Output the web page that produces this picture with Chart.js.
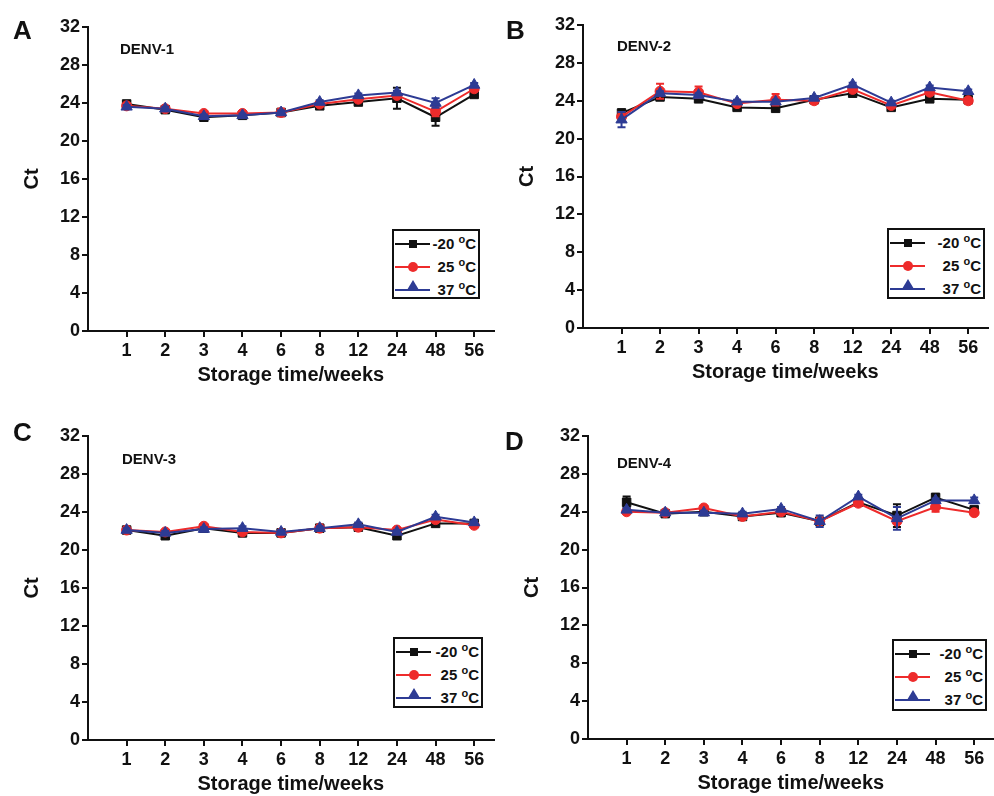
<!DOCTYPE html>
<html>
<head>
<meta charset="utf-8">
<script src="https://cdn.jsdelivr.net/npm/chart.js@4.4.1/dist/chart.umd.min.js"></script>
<style>
  body { margin: 0; width: 994px; height: 796px; overflow: hidden; background: #fff; position: relative;
         font-family: "Liberation Sans", Arial, sans-serif; color: #111; }
  canvas { position: absolute; }
  .lbl { position: absolute; font-weight: bold; line-height: 1; white-space: nowrap; }
  .letter { font-size: 26px; }
  .virus { font-size: 15px; }
  .legend { position: absolute; border: 2px solid #111; box-sizing: border-box; background: #fff; padding: 1px 1px 0 1px; }
  .row { display: flex; align-items: center; height: 23px; }
  .sym { position: relative; width: 35px; height: 12px; flex: none; }
  .sym .ln { position: absolute; left: 0; right: 0; top: 5px; height: 2px; }
  .sym .mk { position: absolute; left: 50%; top: 50%; transform: translate(-50%, -50%); }
  .txt { flex: 1; text-align: right; font-weight: bold; font-size: 15px; padding-right: 1px; white-space: nowrap; }
  .deg { font-size: 11px; position: relative; top: -6px; }
</style>
</head>
<body>
<canvas id="chartA" width="501" height="387" style="left:0;top:0"></canvas>
<canvas id="chartB" width="500" height="384" style="left:495px;top:0"></canvas>
<canvas id="chartC" width="501" height="396" style="left:0;top:400px"></canvas>
<canvas id="chartD" width="501" height="395" style="left:500px;top:400px"></canvas>

<div class="lbl letter" style="left:13px;top:17px">A</div>
<div class="lbl letter" style="left:506px;top:17px">B</div>
<div class="lbl letter" style="left:13px;top:419px">C</div>
<div class="lbl letter" style="left:505px;top:428px">D</div>
<div class="lbl virus" style="left:120px;top:41px">DENV-1</div>
<div class="lbl virus" style="left:617px;top:38px">DENV-2</div>
<div class="lbl virus" style="left:122px;top:451px">DENV-3</div>
<div class="lbl virus" style="left:617px;top:455px">DENV-4</div>

<div class="legend" id="legA" style="left:392px;top:229px;width:88px;height:70px"></div>
<div class="legend" id="legB" style="left:887px;top:228px;width:98px;height:71px"></div>
<div class="legend" id="legC" style="left:393px;top:637px;width:90px;height:71px"></div>
<div class="legend" id="legD" style="left:892px;top:639px;width:95px;height:72px"></div>

<script>
// storage time categories and the three temperatures
const weeks = ['1', '2', '3', '4', '6', '8', '12', '24', '48', '56'];
const temps = ['-20', '25', '37'];
const colors = ['#111111', '#ee2b2b', '#2d3b94'];
const markers = ['rect', 'circle', 'triangle'];
const markerSizes = [6, 5, 6.5];

// DENV-1 Ct values
const denv1_m20 = [23.9, 23.3, 22.5, 22.7, 23.0, 23.7, 24.1, 24.5, 22.5, 24.9];
const denv1_25  = [23.7, 23.4, 22.9, 22.9, 23.0, 23.9, 24.4, 24.8, 23.1, 25.5];
const denv1_37  = [23.6, 23.4, 22.6, 22.7, 23.0, 24.1, 24.8, 25.1, 24.0, 25.9];
const denv1_m20Err = [0.3, 0.2, 0.2, 0.2, 0.2, 0.2, 0.2, 1.1, 0.9, 0.2];
const denv1_25Err  = [0.2, 0.2, 0.2, 0.2, 0.4, 0.2, 0.2, 0.2, 0.5, 0.2];
const denv1_37Err  = [0.2, 0.2, 0.2, 0.2, 0.2, 0.2, 0.2, 0.2, 0.5, 0.2];

// DENV-2 Ct values
const denv2_m20 = [22.7, 24.4, 24.2, 23.3, 23.2, 24.1, 24.8, 23.3, 24.2, 24.1];
const denv2_25  = [22.3, 25.0, 24.9, 23.7, 24.1, 24.0, 25.2, 23.5, 24.9, 24.0];
const denv2_37  = [22.0, 24.8, 24.6, 23.9, 23.9, 24.3, 25.7, 23.8, 25.4, 25.0];
const denv2_m20Err = [0.4, 0.2, 0.2, 0.2, 0.2, 0.2, 0.2, 0.2, 0.2, 0.2];
const denv2_25Err  = [0.5, 0.8, 0.6, 0.2, 0.6, 0.2, 0.2, 0.2, 0.2, 0.3];
const denv2_37Err  = [0.8, 0.2, 0.2, 0.2, 0.2, 0.2, 0.2, 0.2, 0.2, 0.2];

// DENV-3 Ct values
const denv3_m20 = [22.1, 21.5, 22.3, 21.8, 21.8, 22.3, 22.4, 21.5, 22.8, 22.8];
const denv3_25  = [22.1, 21.9, 22.5, 21.9, 21.8, 22.3, 22.4, 22.1, 23.2, 22.6];
const denv3_37  = [22.1, 21.8, 22.2, 22.3, 21.9, 22.3, 22.7, 21.9, 23.5, 22.9];
const denv3_m20Err = [0.2, 0.2, 0.2, 0.2, 0.2, 0.2, 0.2, 0.2, 0.2, 0.2];
const denv3_25Err  = [0.2, 0.2, 0.2, 0.2, 0.2, 0.2, 0.2, 0.2, 0.2, 0.2];
const denv3_37Err  = [0.2, 0.2, 0.2, 0.2, 0.2, 0.2, 0.2, 0.2, 0.2, 0.2];

// DENV-4 Ct values
const denv4_m20 = [25.0, 23.8, 24.0, 23.5, 23.9, 23.0, 25.0, 23.6, 25.5, 24.2];
const denv4_25  = [24.0, 23.9, 24.4, 23.5, 24.0, 23.0, 24.9, 23.0, 24.5, 23.9];
const denv4_37  = [24.2, 23.9, 23.9, 23.8, 24.3, 23.0, 25.6, 23.3, 25.2, 25.2];
const denv4_m20Err = [0.6, 0.2, 0.2, 0.2, 0.2, 0.2, 0.2, 1.2, 0.4, 0.2];
const denv4_25Err  = [0.2, 0.2, 0.2, 0.2, 0.2, 0.2, 0.2, 0.3, 0.5, 0.2];
const denv4_37Err  = [0.2, 0.2, 0.2, 0.2, 0.2, 0.6, 0.2, 1.2, 0.2, 0.3];

Chart.defaults.font.family = '"Liberation Sans", Arial, sans-serif';
Chart.defaults.color = '#111';

// vertical SD bars with caps, drawn under each dataset's markers
const errorBars = {
  id: 'errorBars',
  beforeDatasetDraw(chart, args) {
    const ds = chart.data.datasets[args.index];
    if (!ds.errors) return;
    const xs = chart.scales.x, ys = chart.scales.y, ctx = chart.ctx;
    ctx.save();
    ctx.strokeStyle = ds.borderColor;
    ctx.lineWidth = 2;
    ds.data.forEach(function (p, i) {
      const e = ds.errors[i];
      const px = xs.getPixelForValue(p.x);
      const top = ys.getPixelForValue(p.y + e);
      const bot = ys.getPixelForValue(p.y - e);
      ctx.beginPath();
      ctx.moveTo(px, top); ctx.lineTo(px, bot);
      ctx.moveTo(px - 4, top); ctx.lineTo(px + 4, top);
      ctx.moveTo(px - 4, bot); ctx.lineTo(px + 4, bot);
      ctx.stroke();
    });
    ctx.restore();
  }
};

function makeChart(id, series, errs, padTop) {
  return new Chart(document.getElementById(id), {
    type: 'line',
    data: {
      datasets: series.map(function (vals, k) {
        return {
          label: temps[k] + ' °C',
          data: vals.map(function (v, i) { return { x: i + 1, y: v }; }),
          errors: errs[k],
          borderColor: colors[k],
          backgroundColor: colors[k],
          borderWidth: 2,
          pointStyle: markers[k],
          pointRadius: markerSizes[k],
          pointBorderWidth: 1,
          tension: 0,
          order: 2 - k
        };
      })
    },
    options: {
      responsive: false,
      animation: false,
      devicePixelRatio: 1,
      layout: { padding: { top: padTop, left: 0, right: 0, bottom: 0 } },
      plugins: { legend: { display: false }, tooltip: { enabled: false } },
      scales: {
        x: {
          type: 'linear', min: 0, max: 10.5,
          afterBuildTicks: function (s) { s.ticks = weeks.map(function (w, i) { return { value: i + 1 }; }); },
          afterFit: function (s) { s.height = 56; },
          ticks: {
            callback: function (v) { return weeks[v - 1]; },
            autoSkip: false, maxRotation: 0, padding: 3,
            color: '#111', font: { size: 18, weight: 'bold' }
          },
          grid: { drawOnChartArea: false, drawTicks: true, tickLength: 6, color: '#111', lineWidth: 2 },
          border: { color: '#111', width: 2 },
          title: { display: true, text: 'Storage time/weeks', color: '#111', font: { size: 20, weight: 'bold' }, padding: 0 }
        },
        y: {
          min: 0, max: 32,
          afterFit: function (s) { s.width = 88; },
          ticks: { stepSize: 4, padding: 2, color: '#111', font: { size: 18, weight: 'bold' } },
          grid: { drawOnChartArea: false, drawTicks: true, tickLength: 6, color: '#111', lineWidth: 2 },
          border: { color: '#111', width: 2 },
          title: { display: true, text: 'Ct', color: '#111', font: { size: 20, weight: 'bold' }, padding: { top: 20, bottom: 0 } }
        }
      }
    },
    plugins: [errorBars]
  });
}

function makeLegend(id) {
  const box = document.getElementById(id);
  temps.forEach(function (t, k) {
    let mk;
    if (markers[k] === 'rect') {
      mk = '<span class="mk" style="width:8px;height:8px;background:' + colors[k] + '"></span>';
    } else if (markers[k] === 'circle') {
      mk = '<span class="mk" style="width:10px;height:10px;border-radius:50%;background:' + colors[k] + '"></span>';
    } else {
      mk = '<span class="mk" style="width:0;height:0;border-left:6px solid transparent;border-right:6px solid transparent;border-bottom:10px solid ' + colors[k] + ';top:1px"></span>';
    }
    box.insertAdjacentHTML('beforeend',
      '<div class="row"><span class="sym"><span class="ln" style="background:' + colors[k] + '"></span>' + mk +
      '</span><span class="txt">' + t + ' <span class="deg">o</span>C</span></div>');
  });
}

makeChart('chartA', [denv1_m20, denv1_25, denv1_37], [denv1_m20Err, denv1_25Err, denv1_37Err], 27);
makeChart('chartB', [denv2_m20, denv2_25, denv2_37], [denv2_m20Err, denv2_25Err, denv2_37Err], 25);
makeChart('chartC', [denv3_m20, denv3_25, denv3_37], [denv3_m20Err, denv3_25Err, denv3_37Err], 36);
makeChart('chartD', [denv4_m20, denv4_25, denv4_37], [denv4_m20Err, denv4_25Err, denv4_37Err], 36);
['legA', 'legB', 'legC', 'legD'].forEach(makeLegend);
</script>
</body>
</html>
